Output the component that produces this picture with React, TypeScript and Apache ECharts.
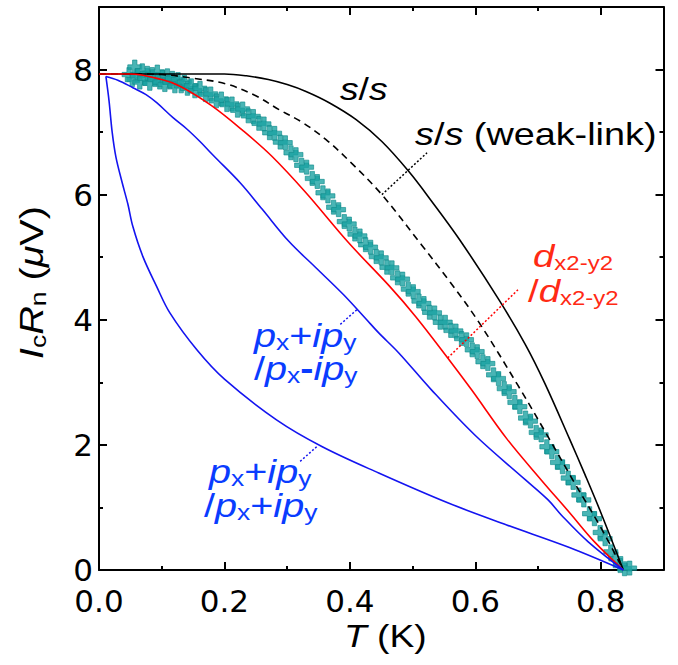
import React, { useEffect, useRef } from 'react';
import * as echarts from 'echarts';

// ---------- tick labels ----------
const xTickValues = [0, 0.2, 0.4, 0.6, 0.8];
const xTickLabels = ['0.0', '0.2', '0.4', '0.6', '0.8'];
const yTickValues = [0, 2, 4, 6, 8];
const yTickLabels = ['0', '2', '4', '6', '8'];

// ---------- curves [T (K), IcRn (uV)] ----------
const curveSS: [number, number][] = [
  [0, 7.93], [0.1, 7.93], [0.2, 7.93], [0.235, 7.9], [0.27, 7.84], [0.3, 7.76], [0.33, 7.65],
  [0.367, 7.47], [0.41, 7.2], [0.451, 6.85], [0.494, 6.37], [0.53, 5.9], [0.575, 5.28],
  [0.637, 4.33], [0.68, 3.6], [0.711, 2.98], [0.75, 2.1], [0.775, 1.52], [0.8, 0.92], [0.836, 0],
];
const curveSSWeak: [number, number][] = [
  [0, 7.93], [0.05, 7.93], [0.1, 7.92], [0.15, 7.86], [0.203, 7.77], [0.25, 7.58], [0.287, 7.36],
  [0.325, 7.15], [0.362, 6.88], [0.403, 6.5], [0.451, 6.0], [0.514, 5.2],
  [0.56, 4.6], [0.605, 3.97], [0.668, 2.95], [0.72, 2.06], [0.756, 1.43], [0.8, 0.68], [0.836, 0],
];
const curveDD: [number, number][] = [
  [0, 7.93], [0.05, 7.93], [0.1, 7.84], [0.13, 7.73], [0.18, 7.42], [0.23, 7.02], [0.276, 6.61],
  [0.33, 6.03], [0.398, 5.23], [0.462, 4.55], [0.505, 4.05], [0.556, 3.39], [0.594, 2.88],
  [0.65, 2.1], [0.705, 1.44], [0.75, 0.92], [0.79, 0.45], [0.836, 0],
];
const curvePPminus: [number, number][] = [
  [0.011, 7.89], [0.03, 7.83], [0.054, 7.71], [0.075, 7.6], [0.092, 7.47], [0.118, 7.23],
  [0.14, 7.05], [0.161, 6.85], [0.182, 6.63], [0.225, 6.19], [0.26, 5.77], [0.303, 5.25],
  [0.345, 4.84], [0.39, 4.4], [0.425, 4.02], [0.446, 3.79], [0.478, 3.47], [0.53, 2.88],
  [0.6, 2.15], [0.68, 1.44], [0.716, 1.12], [0.737, 0.88], [0.78, 0.45], [0.836, 0],
];
const curvePPplus: [number, number][] = [
  [0.011, 7.89], [0.016, 7.5], [0.021, 7.0], [0.027, 6.6], [0.037, 6.19], [0.046, 5.85],
  [0.054, 5.49], [0.07, 5.01], [0.092, 4.53], [0.113, 4.11], [0.156, 3.52], [0.2, 3.05],
  [0.283, 2.4], [0.356, 1.97], [0.446, 1.55], [0.557, 1.07], [0.65, 0.72], [0.75, 0.36], [0.836, 0],
];

// ---------- measured points (crosses) ----------
const measured: [number, number][] = [
  [0.048, 7.92], [0.053, 7.84], [0.057, 8.04], [0.061, 7.90], [0.065, 7.80], [0.069, 7.98],
  [0.073, 7.86], [0.077, 7.94], [0.081, 7.78], [0.085, 7.92], [0.089, 7.84], [0.093, 7.96],
  [0.097, 7.80], [0.101, 7.88], [0.105, 7.76], [0.109, 7.90], [0.113, 7.80], [0.117, 7.86],
  [0.121, 7.74], [0.126, 7.84], [0.131, 7.74], [0.136, 7.80], [0.141, 7.70], [0.147, 7.74],
  [0.153, 7.66], [0.161, 7.70], [0.170, 7.60], [0.178, 7.61], [0.187, 7.50], [0.195, 7.53],
  [0.204, 7.44], [0.212, 7.45], [0.221, 7.35], [0.229, 7.37], [0.238, 7.26], [0.246, 7.25],
  [0.255, 7.14], [0.263, 7.13], [0.272, 6.99], [0.280, 6.98], [0.289, 6.84], [0.297, 6.83],
  [0.306, 6.67], [0.314, 6.64], [0.323, 6.47], [0.331, 6.44], [0.340, 6.26], [0.348, 6.21],
  [0.357, 6.03], [0.365, 5.98], [0.374, 5.80], [0.382, 5.76], [0.391, 5.57], [0.399, 5.53],
  [0.408, 5.37], [0.416, 5.34], [0.425, 5.20], [0.433, 5.16], [0.442, 5.01], [0.450, 4.99],
  [0.459, 4.84], [0.467, 4.83], [0.476, 4.67], [0.484, 4.65], [0.493, 4.49], [0.501, 4.45],
  [0.510, 4.30], [0.518, 4.26], [0.527, 4.12], [0.535, 4.11], [0.544, 3.96], [0.552, 3.96],
  [0.561, 3.83], [0.569, 3.82], [0.578, 3.70], [0.586, 3.68], [0.595, 3.52], [0.603, 3.49],
  [0.612, 3.33], [0.620, 3.30], [0.629, 3.12], [0.637, 3.06], [0.646, 2.90], [0.654, 2.85],
  [0.663, 2.68], [0.671, 2.61], [0.680, 2.43], [0.688, 2.38], [0.697, 2.20], [0.705, 2.16],
  [0.714, 1.97], [0.722, 1.89], [0.731, 1.72], [0.739, 1.65], [0.748, 1.47], [0.756, 1.40],
  [0.765, 1.20], [0.773, 1.12], [0.782, 0.90], [0.790, 0.82], [0.799, 0.60], [0.807, 0.50],
  [0.816, 0.29], [0.824, 0.18], [0.831, 0.07], [0.838, 0.02], [0.846, 0.03],
];

// ---------- annotation leader lines (data coords) ----------
const leaderSSWeak: [number, number][] = [[0.451, 6.0], [0.523, 6.67]];
const leaderDD: [number, number][] = [[0.556, 3.39], [0.668, 4.48]];
const leaderPPminus: [number, number][] = [[0.411, 4.16], [0.384, 3.92]];
const leaderPPplus: [number, number][] = [[0.347, 1.97], [0.32, 1.73]];

const BLACK = '#000000';
const RED = '#ff0000';
const BLUE = '#1414f0';
const TEAL = '#1ba3a3';
const TEAL_EDGE = '#0e8a8a';
const RED_TEXT = '#ff2a14';
const BLUE_TEXT = '#0a3cff';
const FONT = '"Liberation Sans", Arial, Helvetica, sans-serif';
const TICK_FONT = '"DejaVu Sans", sans-serif';

let measureCtx: CanvasRenderingContext2D | null = null;
function fontStr(size: number, kind: string) {
  const style = kind === 'i' ? 'italic ' : '';
  const weight = kind === 'b' ? 'bold ' : '';
  return `${style}${weight}${size}px ${FONT}`;
}
function measure(text: string, font: string) {
  if (!measureCtx) measureCtx = document.createElement('canvas').getContext('2d');
  if (!measureCtx) return text.length * 15;
  measureCtx.font = font;
  return measureCtx.measureText(text).width;
}

type Run = [string, string]; // text, kind: n normal, i italic, s subscript, b bold
function richLabel(
  x: number, y: number, runs: Run[], color: string,
  opts: { size?: number; sub?: number; drop?: number; sx?: number; rotation?: number } = {}
) {
  const size = opts.size ?? 30;
  const subSize = opts.sub ?? 20;
  const drop = opts.drop ?? 3;
  let cx = 0;
  const children = runs.map(([t, k]) => {
    const fs = k === 's' ? subSize : size;
    const font = fontStr(fs, k);
    const dy = k === 's' ? drop : 0;
    const el = {
      type: 'text',
      x: cx,
      y: dy - 0.347 * fs,
      silent: true,
      style: {
        text: t,
        font,
        fill: color,
        align: 'left',
        textAlign: 'left',
        verticalAlign: 'middle',
        textVerticalAlign: 'middle',
      },
    };
    cx += measure(t, font);
    return el;
  });
  return {
    type: 'group',
    x,
    y,
    scaleX: opts.sx ?? 1.2,
    rotation: opts.rotation ?? 0,
    silent: true,
    children,
  };
}

function fmt(values: number[], labels: string[]) {
  return (v: number) => {
    for (let i = 0; i < values.length; i++) {
      if (Math.abs(values[i] - v) < 1e-6) return labels[i];
    }
    return '';
  };
}

export default function App() {
  const ref = useRef<HTMLDivElement>(null);
  useEffect(() => {
    document.body.style.margin = '0';
    if (!ref.current) return;
    const chart = echarts.init(ref.current, undefined, { renderer: 'svg' });

    const xBase = { type: 'value', min: 0, max: 0.9, gridIndex: 0, splitLine: { show: false } };
    const yBase = { type: 'value', min: 0, max: 9, gridIndex: 0, splitLine: { show: false } };
    const axisLine = { show: true, onZero: false, lineStyle: { color: BLACK, width: 2 } };
    const noLine = { show: false, onZero: false };
    const majorTick = { show: true, inside: true, length: 8, lineStyle: { color: BLACK, width: 2 } };
    const minorTick = { show: true, inside: true, length: 4, lineStyle: { color: BLACK, width: 2 } };

    const lineSeries = (data: [number, number][], color: string, dashed = false) => ({
      type: 'line',
      data,
      xAxisIndex: 0,
      yAxisIndex: 0,
      symbol: 'none',
      smooth: 0.35,
      z: 3,
      silent: true,
      lineStyle: { color, width: 1.6, type: dashed ? [7, 5] : 'solid' },
    });
    const leader = (data: [number, number][], color: string) => ({
      type: 'line',
      data,
      xAxisIndex: 0,
      yAxisIndex: 0,
      symbol: 'none',
      z: 4,
      silent: true,
      lineStyle: { color, width: 1.5, type: [2, 2] },
    });

    const option = {
      animation: false,
      backgroundColor: '#ffffff',
      grid: { left: 99, right: 14.5, top: 7, bottom: 95, containLabel: false, outerBoundsMode: 'none' },
      xAxis: [
        {
          ...xBase, interval: 0.2, position: 'bottom', axisLine, axisTick: majorTick,
          axisLabel: {
            show: true, margin: 18, lineHeight: 26, color: BLACK, fontSize: 31, fontFamily: TICK_FONT,
            formatter: fmt(xTickValues, xTickLabels),
          },
        },
        { ...xBase, interval: 0.1, position: 'bottom', axisLine: noLine, axisTick: minorTick, axisLabel: { show: false } },
        { ...xBase, interval: 0.2, position: 'top', axisLine, axisTick: majorTick, axisLabel: { show: false } },
        { ...xBase, interval: 0.1, position: 'top', axisLine: noLine, axisTick: minorTick, axisLabel: { show: false } },
      ],
      yAxis: [
        {
          ...yBase, interval: 2, position: 'left', axisLine, axisTick: majorTick,
          axisLabel: {
            show: true, margin: 6, lineHeight: 26, color: BLACK, fontSize: 31, fontFamily: TICK_FONT,
            formatter: fmt(yTickValues, yTickLabels),
          },
        },
        { ...yBase, interval: 1, position: 'left', axisLine: noLine, axisTick: minorTick, axisLabel: { show: false } },
        { ...yBase, interval: 2, position: 'right', axisLine, axisTick: majorTick, axisLabel: { show: false } },
        { ...yBase, interval: 1, position: 'right', axisLine: noLine, axisTick: minorTick, axisLabel: { show: false } },
      ],
      series: [
        {
          type: 'scatter',
          data: measured,
          xAxisIndex: 0,
          yAxisIndex: 0,
          symbol: 'path://M4.8,0H9.2V4.8H14V9.2H9.2V14H4.8V9.2H0V4.8H4.8Z',
          symbolSize: 14,
          z: 2,
          silent: true,
          itemStyle: { color: TEAL, borderColor: TEAL_EDGE, borderWidth: 0.8 },
        },
        lineSeries(curveSS, BLACK),
        lineSeries(curveSSWeak, BLACK, true),
        lineSeries(curveDD, RED),
        lineSeries(curvePPminus, BLUE),
        lineSeries(curvePPplus, BLUE),
        leader(leaderSSWeak, BLACK),
        leader(leaderDD, RED),
        leader(leaderPPminus, BLUE),
        leader(leaderPPplus, BLUE),
      ],
      graphic: {
        elements: [
          richLabel(340, 100, [['s', 'i'], ['/', 'n'], ['s', 'i']], BLACK, { size: 31 }),
          richLabel(415, 145, [['s', 'i'], ['/', 'n'], ['s', 'i'], [' (weak-link)', 'n']], BLACK, { size: 31.5 }),
          richLabel(533, 267, [['d', 'i'], ['x2-y2', 's']], RED_TEXT, { size: 32, sub: 20 }),
          richLabel(528, 302, [['/', 'n'], ['d', 'i'], ['x2-y2', 's']], RED_TEXT, { size: 32, sub: 20 }),
          richLabel(254, 347, [['p', 'i'], ['x', 's'], ['+', 'n'], ['ip', 'i'], ['y', 's']], BLUE_TEXT, { size: 33, sub: 22 }),
          richLabel(254, 380, [['/', 'n'], ['p', 'i'], ['x', 's'], ['-', 'b'], ['ip', 'i'], ['y', 's']], BLUE_TEXT, { size: 33, sub: 22 }),
          richLabel(209, 483, [['p', 'i'], ['x', 's'], ['+', 'n'], ['ip', 'i'], ['y', 's']], BLUE_TEXT, { size: 33, sub: 22 }),
          richLabel(204, 517, [['/', 'n'], ['p', 'i'], ['x', 's'], ['+', 'n'], ['ip', 'i'], ['y', 's']], BLUE_TEXT, { size: 33, sub: 22 }),
          richLabel(344, 647, [['T', 'i'], [' (K)', 'n']], BLACK, { size: 31 }),
          richLabel(
            43, 359,
            [['I', 'i'], ['c', 's'], ['R', 'i'], ['n', 's'], [' (', 'n'], ['\u03bc', 'i'], ['V)', 'n']],
            BLACK,
            { size: 33, sub: 22, drop: 3, rotation: Math.PI / 2 }
          ),
        ],
      },
    };

    chart.setOption(option as any);
    return () => {
      chart.dispose();
    };
  }, []);

  return <div ref={ref} style={{ width: 678, height: 665 }} />;
}
